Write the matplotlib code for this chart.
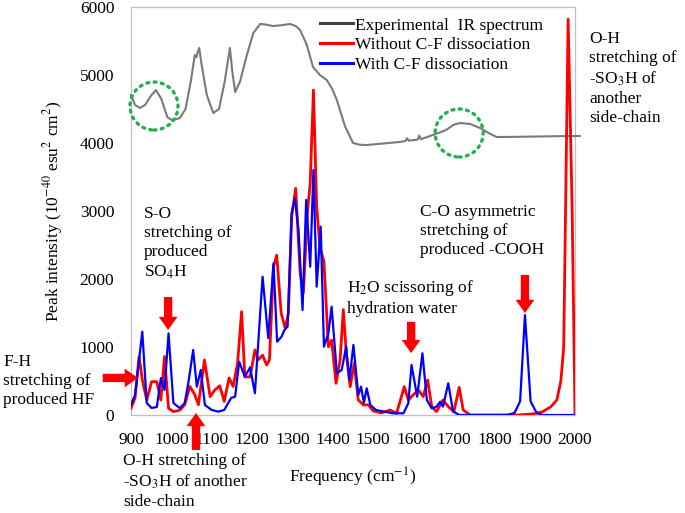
"""IR spectra: experimental vs. computed with / without C-F dissociation."""

# %%
# Imports
# ~~~~~~~

import matplotlib

matplotlib.use("Agg")
from matplotlib import pyplot as plt
from matplotlib.patches import Ellipse

plt.rcParams["font.family"] = ["Liberation Serif", "DejaVu Serif"]
plt.rcParams["mathtext.fontset"] = "stix"

# %%
# Data
# ~~~~~~~~~~~~~~~~~~~~~~~

# Experimental IR spectrum (offset, arbitrary units)
exp_freq = [900, 910, 922, 935, 950, 962, 975, 990, 1001, 1012, 1021, 1035, 1048,
            1058, 1062, 1065, 1069, 1075, 1088, 1104, 1118, 1132, 1145, 1151, 1158,
            1170, 1185, 1203, 1220, 1236, 1252, 1270, 1294, 1308, 1319, 1335, 1351,
            1368, 1385, 1398, 1410, 1430, 1450, 1466, 1484, 1520, 1566, 1580, 1584,
            1588, 1610, 1614, 1618, 1630, 1648, 1680, 1700, 1715, 1740, 1765, 1785,
            1806, 1850, 1900, 1950, 2012]
exp_val = [4706, 4560, 4515, 4560, 4700, 4779, 4650, 4380, 4338, 4350, 4368, 4500,
           4900, 5294, 5260, 5330, 5397, 5150, 4700, 4441, 4500, 4900, 5397, 5050,
           4750, 4900, 5250, 5618, 5750, 5740, 5720, 5730, 5750, 5720, 5662, 5450,
           5118, 5000, 4926, 4800, 4632, 4250, 4000, 3975, 3970, 3990, 4015, 4030,
           4070, 4035, 4050, 4110, 4055, 4080, 4118, 4190, 4270, 4294, 4280, 4220,
           4150, 4088, 4090, 4095, 4100, 4103]

# Computed spectrum, without C-F dissociation
red_freq = [900, 910, 920, 928, 939, 951, 964, 974, 983, 993, 1005, 1021, 1033,
            1046, 1058, 1067, 1082, 1096, 1108, 1120, 1131, 1143, 1153, 1164, 1174,
            1182, 1195, 1207, 1215, 1226, 1236, 1243, 1253, 1261, 1272, 1282, 1290,
            1298, 1308, 1319, 1327, 1337, 1344, 1352, 1360, 1368, 1378, 1389, 1397,
            1408, 1418, 1426, 1434, 1443, 1453, 1463, 1476, 1488, 1500, 1520, 1542,
            1558, 1577, 1587, 1599, 1612, 1624, 1635, 1645, 1657, 1673, 1686, 1700,
            1713, 1723, 1740, 1800, 1860, 1900, 1920, 1940, 1955, 1965, 1972, 1983,
            1993, 2000]
red_val = [100, 250, 860, 520, 220, 490, 490, 220, 860, 100, 50, 70, 150, 420, 300,
           150, 810, 270, 370, 430, 200, 545, 420, 760, 1520, 560, 560, 956, 810,
           880, 735, 810, 2180, 2350, 1500, 1275, 1500, 2916, 3333, 2088, 1794, 2970,
           3411, 4779, 3064, 2475, 2255, 1005, 1100, 466, 809, 1550, 858, 417, 760,
           220, 147, 150, 60, 30, 74, 25, 417, 220, 294, 368, 270, 515, 123, 50, 220,
           123, 50, 407, 74, 0, 0, 0, 20, 50, 120, 220, 500, 1000, 5820, 3000, 0]

# Computed spectrum, with C-F dissociation
blue_freq = [900, 910, 928, 939, 951, 964, 974, 983, 993, 1005, 1021, 1033, 1042,
             1054, 1063, 1073, 1083, 1100, 1116, 1131, 1148, 1158, 1168, 1182, 1195,
             1207, 1226, 1240, 1253, 1262, 1273, 1280, 1288, 1298, 1306, 1315, 1325,
             1334, 1344, 1352, 1360, 1370, 1378, 1389, 1397, 1410, 1422, 1433, 1441,
             1451, 1463, 1470, 1477, 1484, 1493, 1507, 1548, 1575, 1587, 1595, 1609,
             1622, 1633, 1645, 1657, 1666, 1673, 1686, 1698, 1714, 1831, 1850, 1864,
             1876, 1890, 1905, 1920, 2000]
blue_val = [150, 294, 1225, 176, 103, 118, 544, 368, 1200, 176, 100, 176, 470, 956,
            417, 662, 147, 74, 50, 74, 250, 270, 784, 564, 700, 320, 2034, 1132,
            2230, 1078, 1152, 1250, 1300, 2966, 3186, 2720, 1544, 3162, 2181, 3603,
            1887, 2770, 1005, 1201, 1593, 613, 662, 1005, 515, 1030, 294, 417, 180,
            392, 147, 74, 25, 25, 172, 735, 270, 907, 220, 98, 123, 196, 123, 466,
            50, 0, 0, 30, 200, 1470, 200, 30, 0, 0]

x_ticks = [900, 1000, 1100, 1200, 1300, 1400, 1500, 1600, 1700, 1800, 1900, 2000]
y_ticks = [0, 1000, 2000, 3000, 4000, 5000, 6000]

# %%
# Plot
# ~~~~

fs = 12.5
fig = plt.figure(figsize=(6.85, 5.13), dpi=100)
ax = fig.add_axes([131 / 685, 98 / 513, 444 / 685, 408 / 513])

ax.plot(exp_freq, exp_val, color="#7a7a7a", lw=1.5, clip_on=False, zorder=3)
ax.plot(red_freq, red_val, color="#ff0000", lw=2.0, zorder=4)
ax.plot(blue_freq, blue_val, color="#0000ff", lw=1.6, zorder=5)

# legend uses proxies so the experimental handle is darker than the trace
proxies = [
    ax.plot([], [], color="#404040", lw=2.2)[0],
    ax.plot([], [], color="#ff0000", lw=2.2)[0],
    ax.plot([], [], color="#0000ff", lw=2.2)[0],
]
ax.legend(proxies,
          ["Experimental  IR spectrum", "Without C-F dissociation",
           "With C-F dissociation"],
          loc="upper left", bbox_to_anchor=(0.402, 1.0),
          frameon=False, fontsize=fs, handlelength=1.9, handletextpad=0.15,
          labelspacing=0.2, borderaxespad=0.2)

ax.set_xlim(900, 2000)
ax.set_ylim(0, 6000)
ax.set_xticks(x_ticks)
ax.set_yticks(y_ticks)
ax.tick_params(length=0, labelsize=fs, pad=12)
for side in ["left", "bottom", "top", "right"]:
    ax.spines[side].set_color("#c0c0c0")
    ax.spines[side].set_linewidth(0.9)

ax.set_xlabel("Frequency (cm$^{-1}$)", fontsize=fs)
ax.set_ylabel("Peak intensity (10$^{-40}$ esu$^{2}$ cm$^{2}$)", fontsize=fs)
ax.xaxis.set_label_coords(0.5, -0.125)
ax.yaxis.set_label_coords(-0.149, 0.5)

# dotted circles on the experimental trace
for cx, cy in [(957, 4544), (1713, 4147)]:
    ax.add_patch(Ellipse((cx, cy), 119, 706, fill=False, ec="#22b04a", lw=2.4,
                         ls=(0, (0.6, 1.6)), capstyle="round", zorder=6,
                         clip_on=False))

# %%
# Band assignments
# ~~~~~~~~~~~~~~~~

notes = [
    (2035, 5647, "O-H\nstretching of\n-SO$_3$H of\nanother\nside-chain"),
    (932, 3074, "S-O\nstretching of\nproduced\nSO$_4$H"),
    (1435, 2015, "H$_2$O scissoring of\nhydration water"),
    (1616, 3103, "C-O asymmetric\nstretching of\nproduced -COOH"),
    (583, 897, "F-H\nstretching of\nproduced HF"),
    (880, -560, "O-H stretching of\n-SO$_3$H of another\nside-chain"),
]
for nx, ny, txt in notes:
    ax.annotate(txt, (nx, ny), ha="left", va="top", fontsize=fs,
                linespacing=1.25, annotation_clip=False)

arrows = [
    ((992, 1735), (992, 1250)),
    ((1594, 1370), (1594, 910)),
    ((1876, 2060), (1876, 1500)),
    ((830, 545), (917, 545)),
    ((1061, -515), (1061, 30)),
]
for tail, tip in arrows:
    ax.annotate("", xy=tip, xytext=tail, annotation_clip=False, zorder=7,
                arrowprops=dict(arrowstyle="simple,head_length=0.95,head_width=1.35,"
                                "tail_width=0.6", color="#ff0000", lw=0,
                                shrinkA=0, shrinkB=0, mutation_scale=10))

fig.savefig("out.png", dpi=100)
